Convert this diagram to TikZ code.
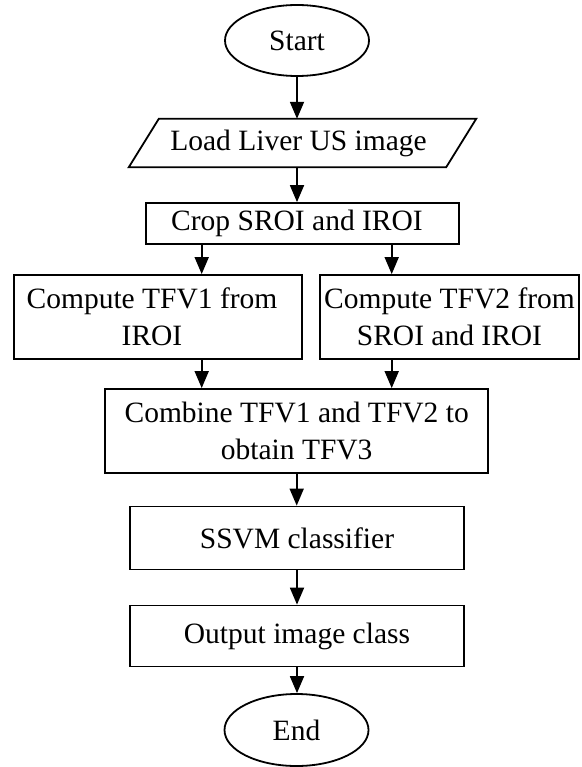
\documentclass[tikz,border=0pt]{standalone}
\usepackage{fontspec}
\setmainfont{Liberation Serif}
\usetikzlibrary{arrows.meta,shapes.geometric,calc}

\begin{document}
\begin{tikzpicture}[x=1pt,y=-1pt,
  every node/.style={font=\fontsize{29.5}{36.5}\selectfont, inner sep=0pt, align=center},
  box/.style={draw, line width=1.8pt, rectangle},
  term/.style={draw, line width=1.8pt, ellipse, minimum width=144, minimum height=71},
  arr/.style={line width=1.8pt, -{Triangle[length=17pt,width=14pt]}},
]
\useasboundingbox (0,0) rectangle (581,767);

% terminals and process boxes
\node[term] (start) at (297,40.5) {Start};
\node[minimum width=317, minimum height=48] (load) at (302.5,143) {Load Liver US image\hspace*{8pt}};
\draw[line width=1.8pt] ([xshift=-15pt]load.south west) -- ([xshift=15pt]load.north west)
   -- ([xshift=15pt]load.north east) -- ([xshift=-15pt]load.south east) -- cycle;
\node[box, minimum width=313, minimum height=41] (crop) at (302.5,223.5) {Crop SROI and IROI\hspace*{11pt}};
\node[box, minimum width=288, minimum height=84] (tfv1) at (158,317) {Compute TFV1 from\hspace*{12pt}\\IROI\hspace*{12pt}};
\node[box, minimum width=259, minimum height=84] (tfv2) at (449.5,317) {Compute TFV2 from\\SROI and IROI};
\node[box, minimum width=383, minimum height=84] (comb) at (296.7,431) {Combine TFV1 and TFV2 to\\obtain TFV3};
\node[box, minimum width=334, minimum height=63] (ssvm) at (297,538) {SSVM classifier};
\node[box, minimum width=334, minimum height=61] (out) at (297,636) {Output image class};
\node[term, minimum height=72] (end) at (296.5,730) {End};

% branch positions under the crop box
\coordinate (lb) at ([xshift=-100.8pt]crop.south);
\coordinate (rb) at ([xshift=89.2pt]crop.south);

% connectors
\draw[arr] (start.south) -- (start.south |- load.north);
\draw[arr] (start.south |- load.south) -- (start.south |- crop.north);
\draw[arr] (lb) -- (lb |- tfv1.north);
\draw[arr] (rb) -- (rb |- tfv2.north);
\draw[arr] (lb |- tfv1.south) -- (lb |- comb.north);
\draw[arr] (rb |- tfv2.south) -- (rb |- comb.north);
\draw[arr] (comb.south) -- (comb.south |- ssvm.north);
\draw[arr] (ssvm.south) -- (out.north);
\draw[arr] (out.south) -- (out.south |- end.north);
\end{tikzpicture}
\end{document}
